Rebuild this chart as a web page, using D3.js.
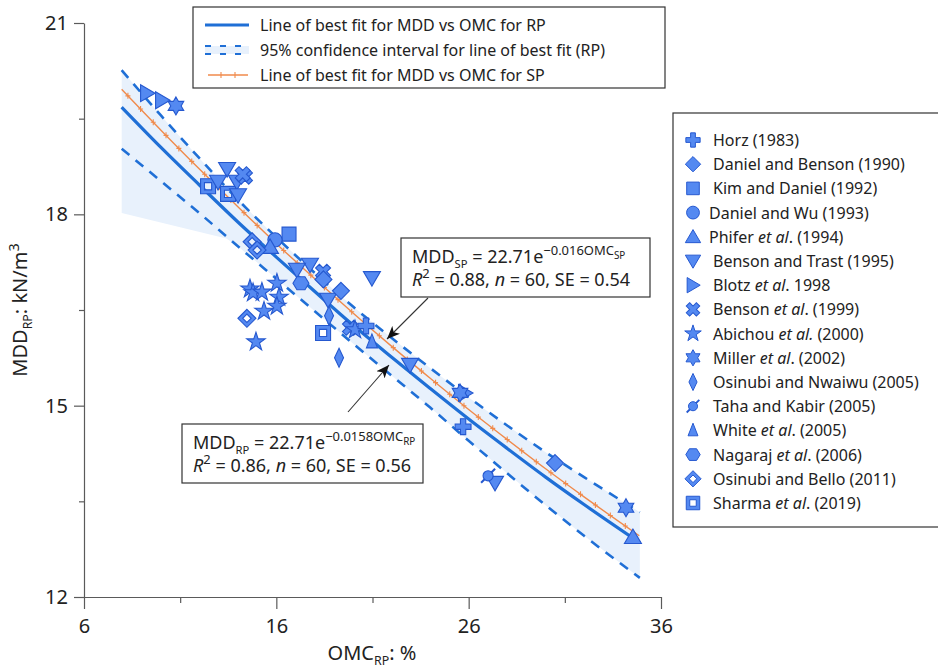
<!DOCTYPE html>
<html>
<head>
<meta charset="utf-8">
<script src="https://cdn.jsdelivr.net/npm/d3@7"></script>
<style>
  body { margin: 0; background: #fff; }
  svg { display: block; font-family: "Noto Sans", "Open Sans", sans-serif; }
  .axis path, .axis line { stroke: #5a5a5a; stroke-width: 1.2; }
  .axis text { fill: #222; font-size: 20px; font-family: "Noto Sans", sans-serif; }
</style>
</head>
<body>
<div id="chart"></div>
<script>
`use strict`;

// ---- data ----
const xTicks = [6, 16, 26, 36];
const xMinor = [11, 21, 31];
const yTicks = [12, 15, 18, 21];
const yMinor = [13.5, 16.5, 19.5];

// best fit RP (solid blue)
const rpOmc = [7.96, 10, 12, 14, 16, 18, 20, 22, 24, 26, 28, 30, 32, 34.9];
const rpMdd = [19.68, 19.05, 18.46, 17.88, 17.33, 16.79, 16.26, 15.76, 15.27, 14.79, 14.33, 13.88, 13.45, 12.85];
// 95% CI (dashed)
const ciUpper = [20.26, 19.55, 18.88, 18.23, 17.64, 17.08, 16.55, 16.06, 15.59, 15.13, 14.69, 14.27, 13.88, 13.33];
const ciLower = [19.03, 18.52, 18.02, 17.50, 16.99, 16.48, 15.97, 15.47, 14.97, 14.45, 13.94, 13.44, 12.96, 12.30];
// lower edge of the shaded band (left part sits under the dashed line)
const bandLowOmc = [7.96, 13.4, 14, 16, 18, 20, 22, 24, 26, 28, 30, 32, 34.9];
const bandLowMdd = [18.02, 17.62, 17.50, 16.99, 16.48, 15.97, 15.47, 14.97, 14.45, 13.94, 13.44, 12.96, 12.30];
// best fit SP (orange)
const spOmc = [7.96, 10, 12, 14, 16, 18, 20, 22, 24, 26, 28, 30, 32, 34.87];
const spMdd = [19.96, 19.32, 18.71, 18.12, 17.54, 16.99, 16.45, 15.93, 15.43, 14.94, 14.47, 14.01, 13.57, 12.96];

const studies = ['Horz (1983)', 'Daniel and Benson (1990)', 'Kim and Daniel (1992)', 'Daniel and Wu (1993)',
  'Phifer *et al*. (1994)', 'Benson and Trast (1995)', 'Blotz *et al*. 1998', 'Benson *et al*. (1999)',
  'Abichou *et al.* (2000)', 'Miller *et al*. (2002)', 'Osinubi and Nwaiwu (2005)', 'Taha and Kabir (2005)',
  'White *et al*. (2005)', 'Nagaraj *et al*. (2006)', 'Osinubi and Bello (2011)', 'Sharma *et al*. (2019)'];
const studyShapes = ['plus', 'diamond', 'square', 'circle', 'triUp', 'triDown', 'triRight', 'x',
  'star', 'hexagram', 'thinDiamond', 'taha', 'triSmall', 'hexagon', 'diamondHollow', 'squareHollow'];

// measured points: study index, OMC (%), MDD (kN/m3)
const pointStudy = [6, 6, 6, 9, 9, 9, 15, 15, 15,
  5, 5, 5, 5, 5, 5, 5, 5, 5, 5,
  7, 7, 7, 7, 2, 3, 4, 4, 14, 14, 14,
  8, 8, 8, 8, 8, 8, 8, 8, 8,
  1, 1, 1, 0, 0, 10, 10, 11, 12, 13];
const pointOmc = [9.28, 10.06, 25.81, 10.78, 25.55, 34.18, 12.45, 13.49, 18.43,
  13.44, 12.97, 13.95, 14.01, 17.75, 17.07, 20.97, 22.95, 27.37, 18.69,
  14.37, 14.25, 19.83, 18.43, 16.66, 15.93, 15.67, 34.54, 14.74, 15.00, 14.47,
  14.63, 14.79, 15.25, 16.03, 16.14, 16.03, 15.36, 14.94, 20.09,
  19.36, 30.49, 18.45, 25.71, 20.66, 19.26, 18.74, 27.01, 20.97, 17.28];
const pointMdd = [19.90, 19.79, 15.20, 19.70, 15.20, 13.40, 18.44, 18.32, 16.14,
  18.71, 18.51, 18.51, 18.30, 17.21, 17.13, 17.00, 15.64, 13.79, 16.66,
  18.59, 18.63, 16.22, 17.10, 17.69, 17.60, 17.49, 12.94, 17.57, 17.44, 16.37,
  16.83, 16.77, 16.78, 16.92, 16.70, 16.56, 16.48, 16.00, 16.19,
  16.80, 14.10, 16.98, 14.67, 16.25, 15.75, 16.41, 13.90, 16.00, 16.92];

const topLegend = ['Line of best fit for MDD vs OMC for RP',
  '95% confidence interval for line of best fit (RP)',
  'Line of best fit for MDD vs OMC for SP'];

// ---- layout ----
let w = 938, h = 672;
const blue = '#1f6fd6', orange = '#f08a4b', band = '#e8f1fc';
const mFill = '#5489f1', mStroke = '#2558cf';

let svg = d3.select('#chart').append('svg').attr('width', w).attr('height', h);

let x = d3.scaleLinear().domain([6, 36]).range([84, 661]);
let y = d3.scaleLinear().domain([12, 21]).range([597, 23]);

let line = d3.line().x(d => x(d[0])).y(d => y(d[1])).curve(d3.curveMonotoneX);
let zip = (a, b) => a.map((v, i) => [v, b[i]]);

//shaded confidence band
let bandPts = zip(rpOmc, ciUpper).concat(zip(bandLowOmc, bandLowMdd).reverse());
svg.append('path')
  .attr('d', d3.line().x(d => x(d[0])).y(d => y(d[1]))(bandPts) + 'Z')
  .attr('fill', band);

//axes
let gx = svg.append('g').attr('class', 'axis').attr('transform', `translate(0,${y(12)})`);
gx.call(d3.axisBottom(x).tickValues(xTicks).tickSize(12).tickPadding(10).tickSizeOuter(0));
gx.append('g').call(d3.axisBottom(x).tickValues(xMinor).tickSize(6).tickFormat('')).select('.domain').remove();

let gy = svg.append('g').attr('class', 'axis').attr('transform', `translate(${x(6)},0)`);
gy.call(d3.axisLeft(y).tickValues(yTicks).tickSize(10).tickPadding(6).tickSizeOuter(0));
gy.append('g').call(d3.axisLeft(y).tickValues(yMinor).tickSize(5).tickFormat('')).select('.domain').remove();

//rich text helper: parts = [text, kind]
const kinds = {
  n: { s: 1, up: 0 }, i: { s: 1, up: 0, it: true },
  sub: { s: 0.62, up: -0.25 }, sup: { s: 0.72, up: 0.42 }, supsub: { s: 0.55, up: 0.2 }
};
function rich(sel, parts, size) {
  let prev = 0;
  for (let [t, k] of parts) {
    let kk = kinds[k];
    let up = kk.up * size;
    sel.append('tspan').text(t)
      .attr('font-size', size * kk.s)
      .attr('font-style', kk.it ? 'italic' : null)
      .attr('dy', (prev - up).toFixed(2));
    prev = up;
  }
  return sel;
}
function parseItalic(str) {
  return str.split('*').map((s, i) => [s, i % 2 ? 'i' : 'n']).filter(p => p[0].length);
}

//axis titles
rich(svg.append('text').attr('x', 372).attr('y', 660).attr('text-anchor', 'middle').attr('fill', '#222'),
  [['OMC', 'n'], ['RP', 'sub'], [': %', 'n']], 20);
rich(svg.append('text').attr('transform', 'translate(27,310) rotate(-90)').attr('text-anchor', 'middle').attr('fill', '#222'),
  [['MDD', 'n'], ['RP', 'sub'], [': kN/m', 'n'], ['3', 'sup']], 20);

//CI dashed lines
for (let arr of [ciUpper, ciLower]) {
  svg.append('path').datum(zip(rpOmc, arr)).attr('d', line)
    .attr('fill', 'none').attr('stroke', blue).attr('stroke-width', 2.6).attr('stroke-dasharray', '10,8');
}
//RP fit
svg.append('path').datum(zip(rpOmc, rpMdd)).attr('d', line)
  .attr('fill', 'none').attr('stroke', blue).attr('stroke-width', 3.2);
//SP fit with small tick marks
let spPath = svg.append('path').datum(zip(spOmc, spMdd)).attr('d', line)
  .attr('fill', 'none').attr('stroke', orange).attr('stroke-width', 1.4);
let len = spPath.node().getTotalLength();
for (let l = 9; l < len; l += 18.3) {
  let p = spPath.node().getPointAtLength(l);
  svg.append('path').attr('d', `M${p.x - 2.5},${p.y}H${p.x + 2.5}M${p.x},${p.y - 3}V${p.y + 3}`)
    .attr('stroke', orange).attr('stroke-width', 1.1);
}

//marker shapes
function poly(pts) { return 'M' + pts.map(p => p[0].toFixed(2) + ',' + p[1].toFixed(2)).join('L') + 'Z'; }
function drawMarker(g, type) {
  let d, rot = 0, rule = null;
  switch (type) {
    case 'plus': d = d3.symbol(d3.symbolCross, 140)(); break;
    case 'x': d = d3.symbol(d3.symbolCross, 140)(); rot = 45; break;
    case 'diamond': d = 'M0,-8.5L8.5,0L0,8.5L-8.5,0Z'; break;
    case 'square': d = 'M-7,-7H7V7H-7Z'; break;
    case 'circle': d = d3.symbol(d3.symbolCircle, 160)(); break;
    case 'triUp': d = 'M0,-8L8.5,6.5L-8.5,6.5Z'; break;
    case 'triDown': d = 'M-8.5,-6.5L8.5,-6.5L0,8Z'; break;
    case 'triRight': d = 'M-6.5,-8.5L8,0L-6.5,8.5Z'; break;
    case 'triSmall': d = 'M0,-8L5.5,6L-5.5,6Z'; break;
    case 'star': d = d3.symbol(d3.symbolStar, 105)(); break;
    case 'thinDiamond': d = 'M0,-9.5L4.5,0L0,9.5L-4.5,0Z'; break;
    case 'hexagram':
      d = poly(d3.range(12).map(i => {
        let a = (-90 + i * 30) * Math.PI / 180, r = i % 2 ? 9 / Math.sqrt(3) : 9;
        return [r * Math.cos(a), r * Math.sin(a)];
      })); break;
    case 'hexagon':
      d = poly(d3.range(6).map(i => {
        let a = i * 60 * Math.PI / 180;
        return [8 * Math.cos(a), 7.5 * Math.sin(a)];
      })); break;
    case 'diamondHollow': d = 'M0,-9L9,0L0,9L-9,0Z M0,-4.2L-4.2,0L0,4.2L4.2,0Z'; rule = 'evenodd'; break;
    case 'squareHollow': d = 'M-7.5,-7.5H7.5V7.5H-7.5Z M-3.6,-3.6V3.6H3.6V-3.6Z'; rule = 'evenodd'; break;
    case 'taha':
      g.append('path').attr('d', 'M-7,7L7,-7').attr('stroke', mStroke).attr('stroke-width', 2);
      d = d3.symbol(d3.symbolCircle, 80)(); break;
  }
  g.append('path').attr('d', d).attr('transform', rot ? `rotate(${rot})` : null)
    .attr('fill', mFill).attr('stroke', mStroke).attr('stroke-width', 1.1)
    .attr('fill-rule', rule);
}

//data points
pointStudy.forEach((s, i) => {
  let g = svg.append('g').attr('transform', `translate(${x(pointOmc[i])},${y(pointMdd[i])})`);
  drawMarker(g, studyShapes[s]);
});

//annotation boxes with arrows
svg.append('defs').append('marker').attr('id', 'ah').attr('viewBox', '0 -6 14 12')
  .attr('refX', 13).attr('refY', 0).attr('markerWidth', 14).attr('markerHeight', 12)
  .attr('markerUnits', 'userSpaceOnUse').attr('orient', 'auto')
  .append('path').attr('d', 'M0,-5.5L13,0L0,5.5L3.5,0Z').attr('fill', '#111');

svg.append('line').attr('x1', 428).attr('y1', 298).attr('x2', 387).attr('y2', 339)
  .attr('stroke', '#333').attr('stroke-width', 1.1).attr('marker-end', 'url(#ah)');
svg.append('line').attr('x1', 348).attr('y1', 412).attr('x2', 389).attr('y2', 365)
  .attr('stroke', '#333').attr('stroke-width', 1.1).attr('marker-end', 'url(#ah)');

function eqBox(bx, by, bw, sub, coef, r2, se) {
  svg.append('rect').attr('x', bx).attr('y', by).attr('width', bw).attr('height', 59)
    .attr('fill', '#fff').attr('stroke', '#333').attr('stroke-width', 1.2);
  rich(svg.append('text').attr('x', bx + 11).attr('y', by + 25).attr('fill', '#222'),
    [['MDD', 'n'], [sub, 'sub'], [' = 22.71e', 'n'], ['\u2212' + coef + 'OMC', 'sup'], [sub, 'supsub']], 18);
  rich(svg.append('text').attr('x', bx + 11).attr('y', by + 48).attr('fill', '#222'),
    [['R', 'i'], ['2', 'sup'], [` = ${r2}, `, 'n'], ['n', 'i'], [` = 60, SE = ${se}`, 'n']], 18);
}
eqBox(401, 238, 249, 'SP', '0.016', '0.88', '0.54');
eqBox(182, 424, 241, 'RP', '0.0158', '0.86', '0.56');

//top legend
let lg = svg.append('g');
lg.append('rect').attr('x', 193).attr('y', 7).attr('width', 472).attr('height', 81)
  .attr('fill', '#fff').attr('stroke', '#333').attr('stroke-width', 1.2);
let rows = [25, 50, 75];
lg.append('line').attr('x1', 205).attr('x2', 249).attr('y1', rows[0]).attr('y2', rows[0])
  .attr('stroke', blue).attr('stroke-width', 3);
lg.append('rect').attr('x', 205).attr('y', rows[1] - 4).attr('width', 44).attr('height', 8).attr('fill', band);
for (let dy of [-4, 4]) {
  lg.append('line').attr('x1', 205).attr('x2', 250).attr('y1', rows[1] + dy).attr('y2', rows[1] + dy)
    .attr('stroke', blue).attr('stroke-width', 2.2).attr('stroke-dasharray', '6,9');
}
lg.append('line').attr('x1', 208).attr('x2', 248).attr('y1', rows[2]).attr('y2', rows[2])
  .attr('stroke', orange).attr('stroke-width', 1.4);
for (let tx of [221, 235]) {
  lg.append('line').attr('x1', tx).attr('x2', tx).attr('y1', rows[2] - 3).attr('y2', rows[2] + 3)
    .attr('stroke', orange).attr('stroke-width', 1.1);
}
topLegend.forEach((t, i) => {
  lg.append('text').attr('x', 260).attr('y', rows[i] + 6).attr('font-size', 16).attr('fill', '#222').text(t);
});

//study legend
let sl = svg.append('g');
sl.append('rect').attr('x', 673).attr('y', 113).attr('width', 280).attr('height', 414)
  .attr('fill', '#fff').attr('stroke', '#333').attr('stroke-width', 1.2);
studies.forEach((name, i) => {
  let cy = 140 + i * 24.2;
  let g = sl.append('g').attr('transform', `translate(693,${cy}) scale(0.9)`);
  drawMarker(g, studyShapes[i]);
  let tx = (i === 3 || i === 4) ? 709 : 713;
  rich(sl.append('text').attr('x', tx).attr('y', cy + 6).attr('fill', '#222'), parseItalic(name), 16);
});
</script>
</body>
</html>
